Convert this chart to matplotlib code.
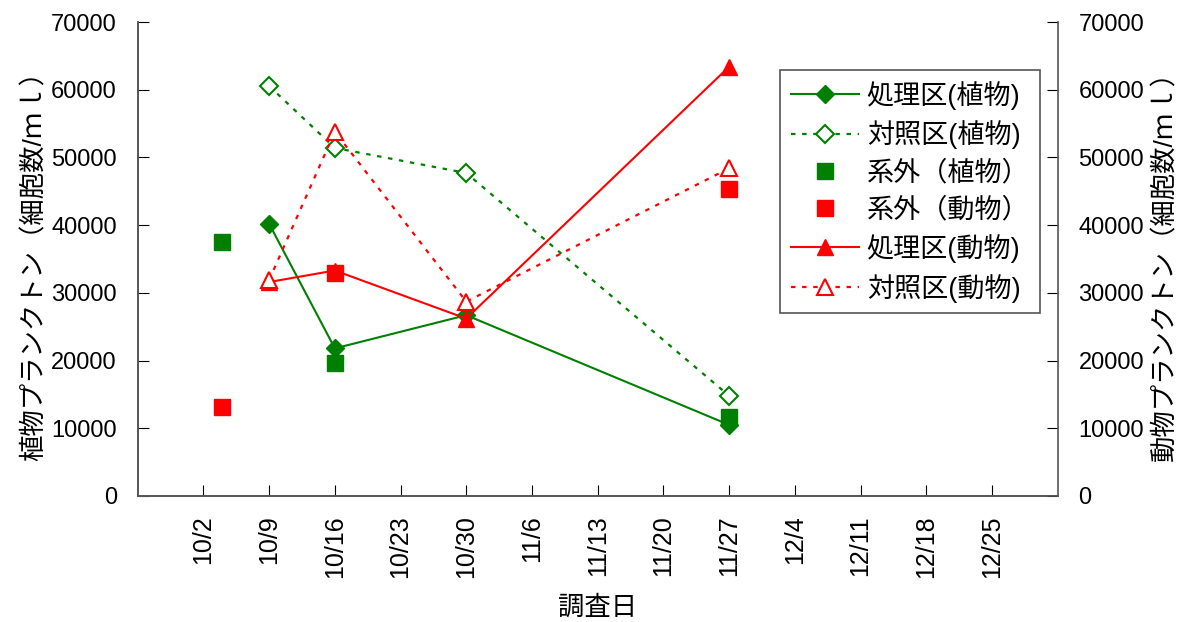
"""Plankton counts (plant / animal) by survey date, dual y axis."""

import matplotlib

matplotlib.use("Agg")
import matplotlib.pyplot as plt
import pandas as pd

plt.rcParams["font.family"] = ["Liberation Sans", "Noto Sans CJK JP", "DejaVu Sans"]

# survey dates
dates_main = pd.to_datetime(["2003-10-09", "2003-10-16", "2003-10-30", "2003-11-27"])
dates_out = pd.to_datetime(["2003-10-04", "2003-10-16", "2003-11-27"])

# cells / ml
treat_plant = [40200, 21800, 26700, 10500]
ctrl_plant = [60550, 51400, 47700, 14800]
out_plant = [37500, 19700, 11700]
out_animal = [13100, 33000, 45300]
treat_animal = [31600, 33300, 26200, 63400]
ctrl_animal = [31900, 53800, 28700, 48400]

tick_dates = pd.date_range("2003-10-02", "2003-12-25", freq="7D")
tick_labels = [f"{d.month}/{d.day}" for d in tick_dates]
x_start, x_end = pd.Timestamp("2003-09-25"), pd.Timestamp("2004-01-01")

GREEN = "#008000"
RED = "#ff0000"
FS = 17
FS_JP = 19
DOT = (0, (2, 3))

fig = plt.figure(figsize=(11.83, 6.22), dpi=100)
ax = fig.add_axes([0.1164, 0.2026, 0.7777, 0.762])
ax2 = ax.twinx()

h1, = ax.plot(dates_main, treat_plant, color=GREEN, lw=1.5, marker="D", ms=9,
              label="処理区(植物)")
h2, = ax.plot(dates_main, ctrl_plant, color=GREEN, lw=1.6, ls=DOT, marker="D", ms=9,
              mfc="white", mew=1.5, label="対照区(植物)")
h3, = ax.plot(dates_out, out_plant, color=GREEN, ls="none", marker="s", ms=11.5,
              label="系外（植物）")

h5, = ax2.plot(dates_main, treat_animal, color=RED, lw=1.5, marker="^", ms=12,
               label="処理区(動物)")
h6, = ax2.plot(dates_main, ctrl_animal, color=RED, lw=1.6, ls=DOT, marker="^", ms=12,
               mfc="white", mew=1.5, label="対照区(動物)")
h4, = ax2.plot(dates_out, out_animal, color=RED, ls="none", marker="s", ms=11.5,
               label="系外（動物）")

for a in (ax, ax2):
    a.set_ylim(0, 70000)
    a.set_yticks(range(0, 70001, 10000))
    a.set_xlim(x_start, x_end)
    a.spines["top"].set_visible(False)
    a.tick_params(axis="y", direction="in", length=8, pad=15, labelsize=FS)

ax.spines["right"].set_visible(False)
ax.set_xticks(tick_dates)
ax.set_xticklabels(tick_labels, rotation=90)
ax.tick_params(axis="x", direction="in", length=8, pad=14, labelsize=18)

ax.set_ylabel("植物プランクトン（細胞数/ｍｌ）", fontsize=FS_JP, labelpad=3)
ax2.set_ylabel("動物プランクトン（細胞数/ｍｌ）", fontsize=FS_JP, labelpad=6)
ax.set_xlabel("調査日", fontsize=FS_JP, labelpad=12)

for a in (ax, ax2):
    for s in a.spines.values():
        s.set_color("#555555")
        s.set_linewidth(1.2)

leg = ax2.legend(handles=[h1, h2, h3, h4, h5, h6], loc="upper right",
                 bbox_to_anchor=(0.981, 0.899), borderaxespad=0,
                 prop={"size": 19.5}, fancybox=False, handlelength=2.5,
                 handletextpad=0.3, labelspacing=0.4, borderpad=0.4,
                 framealpha=1)
leg.get_frame().set_edgecolor("#555555")
leg.get_frame().set_linewidth(1.2)

fig.savefig("out.png", dpi=100)
